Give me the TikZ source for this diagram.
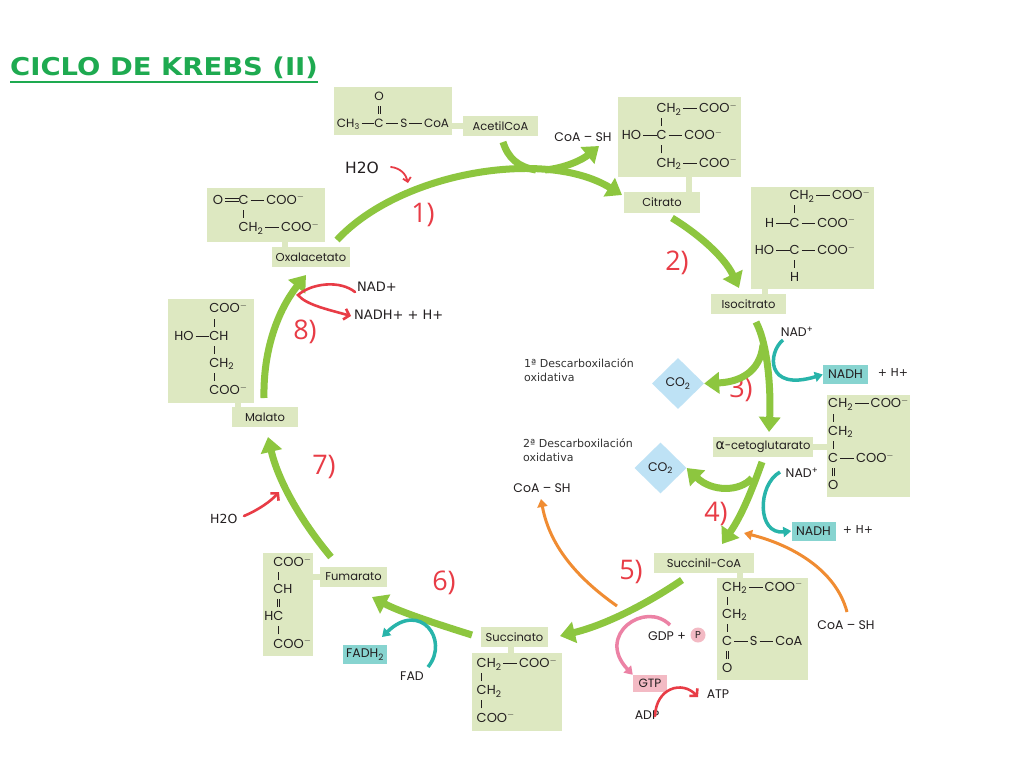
\documentclass[tikz,border=0pt]{standalone}
\usepackage{fontspec}
\setmainfont{DejaVu Sans}
\newfontfamily\chemf{Poppins}
\newfontfamily\numf{Open Sans}
\newfontfamily\titf{DejaVu Sans}
\newfontfamily\grkf{DejaVu Sans}
\usetikzlibrary{arrows.meta,shapes.geometric}
\definecolor{boxc}{RGB}{221,232,193}
\definecolor{arrg}{RGB}{141,198,63}
\definecolor{tealc}{RGB}{40,180,170}
\definecolor{nadhc}{RGB}{135,212,208}
\definecolor{co2c}{RGB}{190,226,245}
\definecolor{orangec}{RGB}{240,140,50}
\definecolor{pinkc}{RGB}{236,130,165}
\definecolor{gtpc}{RGB}{243,186,196}
\definecolor{redc}{RGB}{232,60,70}
\definecolor{titc}{RGB}{30,170,80}
\definecolor{inkc}{RGB}{35,31,32}
\newcommand\hb{\hspace{2pt}\rule[0.3em]{1.05em}{0.6pt}\hspace{2pt}}
\newcommand\hdb{\hspace{2pt}\rlap{\rule[0.2em]{1.05em}{0.6pt}}\rule[0.45em]{1.05em}{0.6pt}\hspace{2pt}}
\newcommand\vb{\rule{0.6pt}{8pt}}
\newcommand\dvb{\rule{0.6pt}{8pt}\hspace{1.6pt}\rule{0.6pt}{8pt}}
\newcommand\mn{$^{-}$}
\tikzset{
  sbox/.style={fill=boxc, inner sep=0pt, text=inkc, font=\chemf\fontsize{13}{13.6}\selectfont},
  lbox/.style={fill=boxc, inner sep=0pt, text=inkc, minimum height=20pt, font=\chemf\fontsize{11.5}{12}\selectfont},
  conn/.style={draw=boxc, line width=6pt},
  chem/.style={text=inkc, inner sep=0pt, font=\chemf\fontsize{12.5}{13}\selectfont},
  plain/.style={text=inkc, inner sep=0pt, font=\fontsize{11}{14.5}\selectfont},
  numst/.style={text=redc, inner sep=0pt, font=\numf\fontsize{27}{30}\selectfont},
  co2/.style={diamond, fill=co2c, inner sep=0pt, minimum width=52pt, minimum height=51pt, text=inkc, font=\chemf\fontsize{12.5}{13}\selectfont},
  nadh/.style={fill=nadhc, inner sep=0pt, minimum height=19pt, text=inkc, font=\chemf\fontsize{12.5}{13}\selectfont},
  garr/.style={draw=arrg, line width=7pt, -{Triangle[width=21pt,length=15pt]}},
  gln/.style={draw=arrg, line width=7pt},
  tarr/.style={draw=tealc, line width=3.5pt, -{Triangle[width=10pt,length=8pt]}},
  oarr/.style={draw=orangec, line width=3pt, -{Triangle[width=10pt,length=8pt]}},
  parr/.style={draw=pinkc, line width=3.5pt, -{Triangle[width=10pt,length=8pt]}},
  rarr/.style={draw=redc, line width=2.6pt, line cap=round, -{Straight Barb[length=5pt,width=11pt]}},
}
\begin{document}
\begin{tikzpicture}[x=1pt,y=-1pt]
\useasboundingbox[fill=white] (0,0) rectangle (1024,768);
% title
\node[anchor=base west, inner sep=0pt, text=titc, font=\titf\bfseries\fontsize{24.5}{28}\selectfont] (title) at (10,75) {\scalebox{1.12}[1]{CICLO DE KREBS (II)}};
\draw[titc, line width=2.2pt] ([yshift=-7pt]title.base west) -- ([yshift=-7pt]title.base east);

% label boxes
\node[lbox, minimum width=75pt] (acL) at (500.5,126) {AcetilCoA};
\node[lbox, minimum width=76pt, minimum height=21pt] (citL) at (662,202.5) {Citrato};
\node[lbox, minimum width=75pt] (isoL) at (748.5,304) {Isocitrato};
\node[lbox, minimum width=100pt] (akgL) at (763,447) {{\grkf\fontsize{14}{14}\selectfont α}-cetoglutarato};
\node[lbox, minimum width=100pt] (scoaL) at (704,563) {Succinil-CoA};
\node[lbox, minimum width=67pt] (sucL) at (514.5,637) {Succinato};
\node[lbox, minimum width=67pt] (fumL) at (353.5,577) {Fumarato};
\node[lbox, minimum width=66pt] (malL) at (265,417) {Malato};
\node[lbox, minimum width=78pt] (oxaL) at (311,257) {Oxalacetato};

% connectors label - structure
\draw[conn] (acL.west) -- ++(-13,0);
\draw[conn] ([xshift=27pt]citL.north) -- ++(0,-17);
\draw[conn] ([xshift=16.5pt]isoL.north) -- ++(0,-8);
\draw[conn] (akgL.east) -- ++(15,0);
\draw[conn] ([xshift=36pt]scoaL.south) -- ++(0,7);
\draw[conn] ([xshift=-4pt]sucL.south) -- ++(0,8);
\draw[conn] (fumL.west) -- ++(-9,0);
\draw[conn] ([xshift=-27pt]malL.north) -- ++(0,-6);
\draw[conn] ([xshift=-26pt]oxaL.north) -- ++(0,-7);

% structures
\node[sbox, minimum width=118pt, minimum height=48pt, font=\chemf\fontsize{12}{13.6}\selectfont] (acS) at (393,111) {%
\begin{tabular}{@{}r@{}c@{}l@{}}
 & O & \\
 & \dvb & \\
CH\textsubscript{3}\hb & C & \hb S\hb CoA
\end{tabular}};
\node[sbox, minimum width=123pt, minimum height=80pt] (citS) at (679.5,137) {%
\begin{tabular}{@{}r@{}c@{}l@{}}
 & C & H\textsubscript{2}\hb COO\mn \\
 & \vb & \\
HO\hb & C & \hb COO\mn \\
 & \vb & \\
 & C & H\textsubscript{2}\hb COO\mn
\end{tabular}};
\node[sbox, minimum width=123pt, minimum height=102pt] (isoS) at (812.5,238) {%
\begin{tabular}{@{}r@{}c@{}l@{}}
 & C & H\textsubscript{2}\hb COO\mn \\
 & \vb & \\
H\hb & C & \hb COO\mn \\
 & & \\
HO\hb & C & \hb COO\mn \\
 & \vb & \\
 & H &
\end{tabular}};
\node[sbox, minimum width=83pt, minimum height=102pt] (akgS) at (868.5,446) {%
\begin{tabular}{@{}r@{}c@{}l@{}}
 & C & H\textsubscript{2}\hb COO\mn \\
 & \vb & \\
 & C & H\textsubscript{2} \\
 & \vb & \\
 & C & \hb COO\mn \\
 & \dvb & \\
 & O &
\end{tabular}};
\node[sbox, minimum width=91pt, minimum height=102pt] (scoaS) at (762.5,629) {%
\begin{tabular}{@{}r@{}c@{}l@{}}
 & C & H\textsubscript{2}\hb COO\mn \\
 & \vb & \\
 & C & H\textsubscript{2} \\
 & \vb & \\
 & C & \hb S\hb CoA \\
 & \dvb & \\
 & O &
\end{tabular}};
\node[sbox, minimum width=90pt, minimum height=78pt] (sucS) at (517,692) {%
\begin{tabular}{@{}r@{}c@{}l@{}}
 & C & H\textsubscript{2}\hb COO\mn \\
 & \vb & \\
 & C & H\textsubscript{2} \\
 & \vb & \\
 & C & OO\mn
\end{tabular}};
\node[sbox, minimum width=50pt, minimum height=103pt] (fumS) at (288,604.5) {%
\begin{tabular}{@{}r@{}c@{}l@{}}
 & C & OO\mn \\
 & \vb & \\
 & C & H \\
 & \dvb & \\
H & C & \\
 & \vb & \\
 & C & OO\mn
\end{tabular}};
\node[sbox, minimum width=86pt, minimum height=104pt] (malS) at (211,351) {%
\begin{tabular}{@{}r@{}c@{}l@{}}
 & C & OO\mn \\
 & \vb & \\
HO\hb & C & H \\
 & \vb & \\
 & C & H\textsubscript{2} \\
 & \vb & \\
 & C & OO\mn
\end{tabular}};
\node[sbox, minimum width=118pt, minimum height=54pt] (oxaS) at (266,215) {%
\begin{tabular}{@{}r@{}c@{}l@{}}
O\hdb & C & \hb COO\mn \\
 & \vb & \\
 & C & H\textsubscript{2}\hb COO\mn
\end{tabular}};

% side species
\node[co2] (co2a) at (678,383.5) {CO\textsubscript{2}};
\node[co2] (co2b) at (660.5,468) {CO\textsubscript{2}};
\node[nadh, minimum width=45pt] (nadh1) at (845.5,374.5) {NADH};
\node[nadh, minimum width=44pt] (nadh2) at (813.5,531) {NADH};
\node[nadh, minimum width=44pt] (fadh) at (365,654.5) {FADH\textsubscript{2}};
\node[fill=gtpc, inner sep=0pt, minimum width=34pt, minimum height=17pt, text=inkc, font=\chemf\fontsize{12}{13}\selectfont] (gtp) at (650,683.5) {GTP};
\node[chem] (gdp) at (667,636) {GDP +};
\node[circle, fill=gtpc, inner sep=0pt, minimum size=15pt, text=inkc, font=\chemf\fontsize{10}{10}\selectfont] (pcirc) at (698,635) {P};
\node[chem] (atp) at (718,694) {ATP};
\node[chem] (adp) at (647,715) {ADP};
\node[chem] (fad) at (412,676) {FAD};
\node[chem] (nad1) at (797,332) {NAD\textsuperscript{+}};
\node[chem] (nad2) at (802,473) {NAD\textsuperscript{+}};
\node[plain] (hp1) at (893,372) {+ H+};
\node[plain] (hp2) at (858,529) {+ H+};
\node[chem] (coa1) at (583,137) {CoA – SH};
\node[chem] (coa2) at (542,488) {CoA – SH};
\node[chem] (coa3) at (846,625) {CoA – SH};
\node[plain, anchor=west, font=\fontsize{15.5}{18}\selectfont] (h2oa) at (345,168) {H2O};
\node[plain, anchor=west, font=\fontsize{12.5}{15}\selectfont] (h2ob) at (210,519) {H2O};
\node[plain, anchor=west, font=\fontsize{13}{15}\selectfont] (nad8) at (357,287) {NAD+};
\node[plain, anchor=west, font=\fontsize{13}{15}\selectfont] (nadh8) at (354,315) {NADH+ + H+};
\node[plain, anchor=north west, align=left, text=black!80] (desc1) at (524,358) {1ª Descarboxilación\\oxidativa};
\node[plain, anchor=north west, align=left, text=black!80] (desc2) at (523,438) {2ª Descarboxilación\\oxidativa};

% step numbers
\node[numst] (n1) at (423,215) {1)};
\node[numst] (n2) at (677,263) {2)};
\node[numst] (n3) at (741,390) {3)};
\node[numst] (n4) at (716,514) {4)};
\node[numst] (n5) at (631,572) {5)};
\node[numst] (n6) at (444,583) {6)};
\node[numst] (n7) at (324,467) {7)};
\node[numst] (n8) at (305,332) {8)};

% green cycle arrows
\coordinate (a1s) at (337,240); \coordinate (a1e) at (622,195);
\draw[garr] (a1s) .. controls (400,172) and (545,148) .. (a1e);
\coordinate (acb) at (503,142); \coordinate (acm) at (536,170);
\draw[gln] (acb) .. controls (508,158) and (518,167) .. (acm);
\coordinate (csb) at (545,170); \coordinate (cse) at (599,146);
\draw[garr] (csb) .. controls (565,168) and (582,160) .. (cse);
\coordinate (a2s) at (672,218); \coordinate (a2e) at (739,288);
\draw[garr] (a2s) .. controls (700,235) and (725,258) .. (a2e);
\coordinate (a3s) at (756,322); \coordinate (a3e) at (769,432);
\draw[garr] (a3s) .. controls (768,345) and (771,390) .. (a3e);
\coordinate (a3b) at (763,345);
\draw[garr] (a3b) .. controls (760,372) and (740,382) .. (co2a.east);
\coordinate (a4s) at (762,462); \coordinate (a4e) at (722,544);
\draw[garr] (a4s) .. controls (752,490) and (742,515) .. (a4e);
\coordinate (a4b) at (752,478);
\draw[garr] (a4b) .. controls (740,492) and (712,492) .. (co2b.east);
\coordinate (a5s) at (682,580); \coordinate (a5e) at (560,636);
\draw[garr] (a5s) .. controls (645,605) and (605,625) .. (a5e);
\coordinate (a6s) at (472,635); \coordinate (a6e) at (372,597);
\draw[garr] (a6s) .. controls (440,625) and (400,612) .. (a6e);
\coordinate (a7s) at (331,557); \coordinate (a7e) at (268,437);
\draw[garr] (a7s) .. controls (300,520) and (278,480) .. (a7e);
\coordinate (a8s) at (264,398); \coordinate (a8e) at (306,275);
\draw[garr] (a8s) .. controls (263,350) and (278,310) .. (a8e);

% cofactor arrows
\coordinate (t3s) at (783,340);
\draw[tarr] (t3s) .. controls (768,352) and (765,392) .. (nadh1.west);
\coordinate (t4s) at (780,472);
\draw[tarr] (t4s) .. controls (757,485) and (757,535) .. (nadh2.west);
\coordinate (fs) at (428,667); \coordinate (fe) at (382,637);
\draw[tarr] (fs) .. controls (450,640) and (420,600) .. (fe);
\coordinate (ps) at (670,625);
\draw[parr] (ps) .. controls (645,600) and (595,635) .. (gtp.north west);
\coordinate (rs) at (655,716); \coordinate (re) at (698,697);
\draw[rarr] (rs) .. controls (656,688) and (682,680) .. (re);
\coordinate (o1s) at (617,606); \coordinate (o1e) at (541,499);
\draw[oarr] (o1s) .. controls (580,580) and (550,548) .. (o1e);
\coordinate (o2s) at (847,612); \coordinate (o2e) at (744,533);
\draw[oarr] (o2s) .. controls (836,570) and (792,545) .. (o2e);
\coordinate (h1s) at (391,167); \coordinate (h1e) at (408,183);
\draw[rarr, line width=1.8pt, -{Straight Barb[length=4pt,width=8pt]}] (h1s) .. controls (400,168) and (406,174) .. (h1e);
\coordinate (h2s) at (244,516); \coordinate (h2e) at (279,492);
\draw[rarr] (h2s) .. controls (258,510) and (270,502) .. (h2e);
\coordinate (r8s) at (355,292); \coordinate (r8m) at (298,295); \coordinate (r8e) at (351,316);
\draw[rarr] (r8s) .. controls (340,280) and (312,283) .. (r8m) .. controls (306,305) and (330,310) .. (r8e);
\end{tikzpicture}
\end{document}
